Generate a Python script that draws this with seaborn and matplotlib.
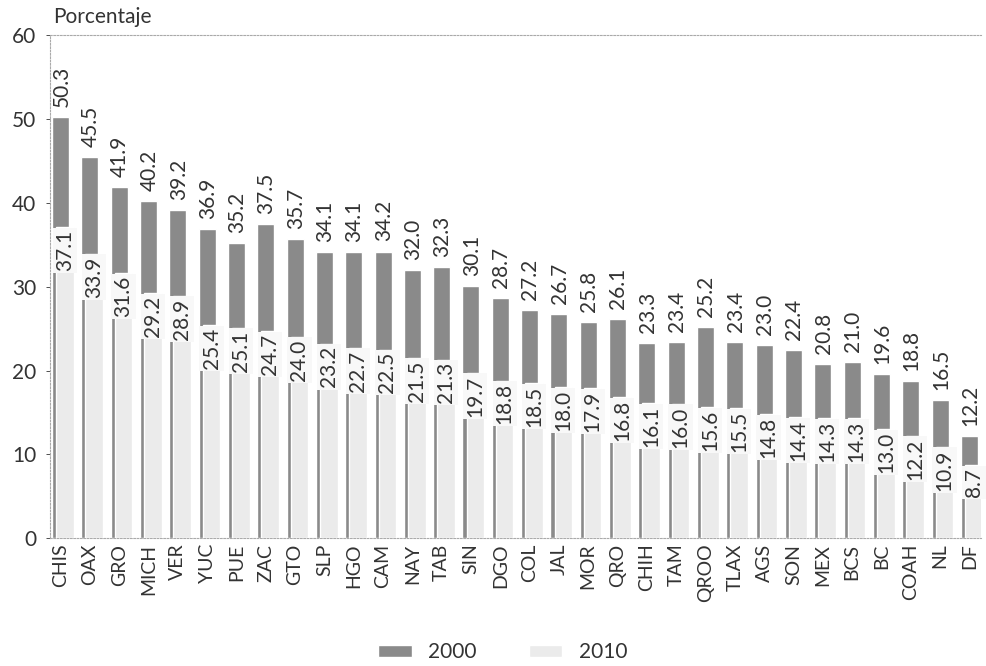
import numpy as np
import pandas as pd
import matplotlib.pyplot as plt
import seaborn as sns
from matplotlib.patches import Patch

# Datos
estados = ["CHIS", "OAX", "GRO", "MICH", "VER", "YUC", "PUE", "ZAC", "GTO", "SLP",
           "HGO", "CAM", "NAY", "TAB", "SIN", "DGO", "COL", "JAL", "MOR", "QRO",
           "CHIH", "TAM", "QROO", "TLAX", "AGS", "SON", "MEX", "BCS", "BC", "COAH",
           "NL", "DF"]
valores_2000 = [50.3, 45.5, 41.9, 40.2, 39.2, 36.9, 35.2, 37.5, 35.7, 34.1,
                34.1, 34.2, 32.0, 32.3, 30.1, 28.7, 27.2, 26.7, 25.8, 26.1,
                23.3, 23.4, 25.2, 23.4, 23.0, 22.4, 20.8, 21.0, 19.6, 18.8,
                16.5, 12.2]
valores_2010 = [37.1, 33.9, 31.6, 29.2, 28.9, 25.4, 25.1, 24.7, 24.0, 23.2,
                22.7, 22.5, 21.5, 21.3, 19.7, 18.8, 18.5, 18.0, 17.9, 16.8,
                16.1, 16.0, 15.6, 15.5, 14.8, 14.4, 14.3, 14.3, 13.0, 12.2,
                10.9, 8.7]

df = pd.DataFrame({"estado": estados, "v2000": valores_2000, "v2010": valores_2010})

sns.set_style("white")
plt.rcParams["font.family"] = ["Lato", "DejaVu Sans"]

color_2000 = "#8a8a8a"
color_2010 = "#ebebeb"
color_texto = "#333333"

fig = plt.figure(figsize=(9.86, 6.66), dpi=100)
ax = fig.add_axes([0.051, 0.192, 0.944, 0.755])

# Barras 2000 (oscuras)
sns.barplot(data=df, x="estado", y="v2000", color=color_2000, width=0.58,
            saturation=1, ax=ax)

# Barras 2010 (claras), un poco desplazadas a la derecha
offset = 0.15
pos = np.arange(len(estados))
ax.bar(pos + offset, df["v2010"], width=0.6, color=color_2010, zorder=3)

# Etiquetas de valores
for i, (a, b) in enumerate(zip(valores_2000, valores_2010)):
    ax.text(i + 0.03, a + 1.2, f"{a:.1f}", rotation=90, ha="center", va="bottom",
            fontsize=15, color=color_texto)
    ax.text(i + offset, b - 0.3, f"{b:.1f}", rotation=90, ha="center", va="top",
            fontsize=15, color=color_texto, zorder=4,
            bbox=dict(boxstyle="square,pad=0.1", facecolor="#f8f8f8", edgecolor="none"))

ax.set_xlim(-0.35, len(estados) - 0.6)
ax.set_ylim(0, 60)
ax.set_yticks(range(0, 61, 10))
ax.set_xlabel("")
ax.set_ylabel("")
ax.tick_params(axis="x", labelrotation=90, labelsize=14, length=0, pad=4, colors=color_texto)
ax.tick_params(axis="y", labelsize=15, length=3, width=0.6, pad=7, left=True, colors=color_texto)

for s in ["left", "top", "bottom"]:
    ax.spines[s].set_linestyle((0, (1.5, 1.5)))
    ax.spines[s].set_color("#aaaaaa")
    ax.spines[s].set_linewidth(0.8)
ax.spines["right"].set_visible(False)

fig.text(0.054, 0.974, "Porcentaje", fontsize=15, color=color_texto, va="center")

handles = [Patch(facecolor=color_2000, label="2000"),
           Patch(facecolor=color_2010, label="2010")]
fig.legend(handles=handles, loc="center", bbox_to_anchor=(0.51, 0.021), ncol=2,
           frameon=False, fontsize=15, handlelength=1.6, handleheight=0.5,
           columnspacing=2.5, labelcolor=color_texto)

plt.savefig("out.png", dpi=100, facecolor="white")
